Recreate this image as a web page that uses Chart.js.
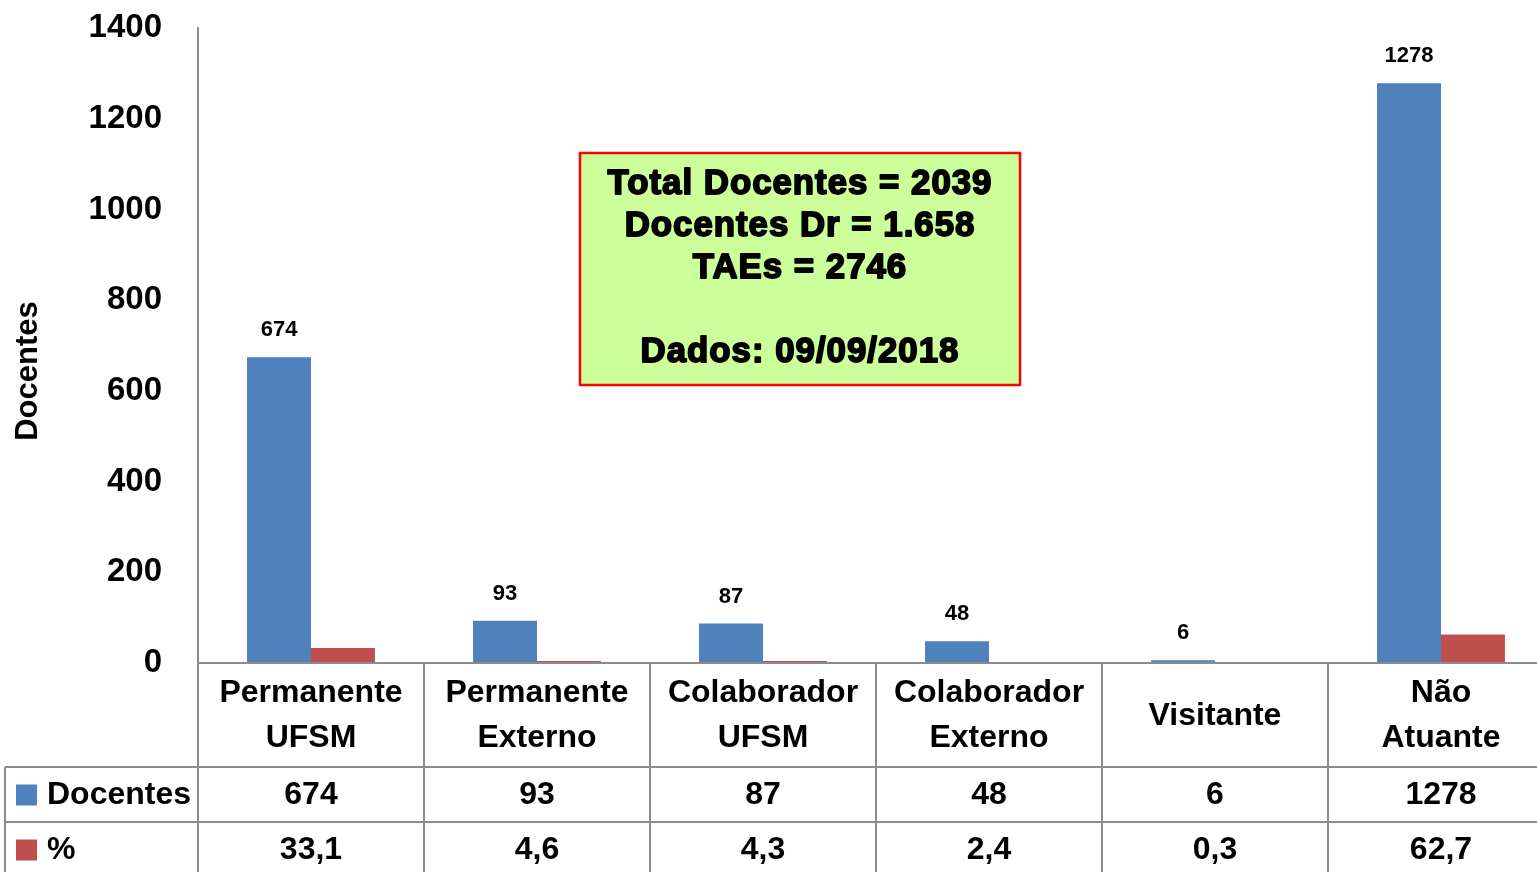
<!DOCTYPE html>
<html>
<head>
<meta charset="utf-8">
<script src="https://cdn.jsdelivr.net/npm/chart.js@4/dist/chart.umd.min.js"></script>
<style>
    html, body { margin: 0; padding: 0; background: #fff; width: 1537px; height: 872px; overflow: hidden; }
    #wrap { width: 1560px; height: 880px; position: relative; }
</style>
</head>
<body>
<div id="wrap"><canvas id="chart"></canvas></div>
<script>
// ── Data ─────────────────────────────────────────────────────
const categories = [
    ['Permanente', 'UFSM'],
    ['Permanente', 'Externo'],
    ['Colaborador', 'UFSM'],
    ['Colaborador', 'Externo'],
    ['Visitante'],
    ['Não', 'Atuante']
];
const docentes   = [674, 93, 87, 48, 6, 1278];
const percentual = [33.1, 4.6, 4.3, 2.4, 0.3, 62.7];
const seriesNames = ['Docentes', '%'];
const yTicks = [0, 200, 400, 600, 800, 1000, 1200, 1400];
const boxLines = ['Total Docentes = 2039', 'Docentes Dr = 1.658', 'TAEs = 2746', '', 'Dados: 09/09/2018'];

// ── Style ────────────────────────────────────────────────────
const BLUE  = '#4f81bd';
const RED   = '#c0504d';
const GRID  = '#8c8c8c';
const FONT  = '"Liberation Sans", Arial, sans-serif';

function fmtPct(v) { return v.toFixed(1).replace('.', ','); }

// ── Table + annotations plugin ───────────────────────────────
const tablePlugin = {
    id: 'tablePlugin',
    afterDraw(chart) {
        const ctx  = chart.ctx;
        const area = chart.chartArea;
        const xs   = chart.scales.x;
        const step = (area.right - area.left) / categories.length;
        const rowTop = [area.bottom, area.bottom + 104, area.bottom + 159, area.bottom + 214];

        ctx.save();

        // grid
        ctx.strokeStyle = GRID;
        ctx.lineWidth = 2;
        ctx.beginPath();
        ctx.moveTo(area.left, rowTop[0]); ctx.lineTo(chart.width, rowTop[0]);
        for (let r = 1; r < rowTop.length; r++) {
            ctx.moveTo(5, rowTop[r]); ctx.lineTo(chart.width, rowTop[r]);
        }
        for (let i = 0; i <= categories.length; i++) {
            const x = area.left + i * step;
            ctx.moveTo(x, rowTop[0]); ctx.lineTo(x, chart.height);
        }
        ctx.moveTo(5, rowTop[1]); ctx.lineTo(5, chart.height);
        ctx.stroke();

        // category labels
        ctx.fillStyle = '#000';
        ctx.textAlign = 'center';
        ctx.textBaseline = 'middle';
        ctx.font = 'bold 32px ' + FONT;
        const labelMid = (rowTop[0] + rowTop[1]) / 2;
        categories.forEach((lines, i) => {
            const x = xs.getPixelForValue(i);
            lines.forEach((t, k) => {
                const y = labelMid + 1 + (k - (lines.length - 1) / 2) * 45;
                ctx.fillText(t, x, y);
            });
        });

        // table values
        const rows = [docentes.map(String), percentual.map(fmtPct)];
        rows.forEach((vals, r) => {
            const y = (rowTop[r + 1] + rowTop[r + 2]) / 2 + 1;
            vals.forEach((v, i) => ctx.fillText(v, xs.getPixelForValue(i), y));
        });

        // legend keys
        ctx.textAlign = 'left';
        [BLUE, RED].forEach((c, r) => {
            const y = (rowTop[r + 1] + rowTop[r + 2]) / 2;
            ctx.fillStyle = c;
            ctx.fillRect(16, y - 10, 21, 21);
            ctx.fillStyle = '#000';
            ctx.fillText(seriesNames[r], 47, y + 1);
        });

        // data labels on blue bars
        ctx.textAlign = 'center';
        ctx.textBaseline = 'middle';
        ctx.font = 'bold 22px ' + FONT;
        chart.getDatasetMeta(0).data.forEach((bar, i) => {
            ctx.fillText(String(docentes[i]), bar.x, bar.y - 27);
        });

        // y axis title
        ctx.save();
        ctx.translate(28, 371);
        ctx.rotate(-Math.PI / 2);
        ctx.font = 'bold 31px ' + FONT;
        ctx.fillText('Docentes', 0, 0);
        ctx.restore();

        // info box
        const bx = 580, by = 153, bw = 440, bh = 232;
        ctx.fillStyle = '#ccff99';
        ctx.fillRect(bx, by, bw, bh);
        ctx.strokeStyle = '#ff0000';
        ctx.lineWidth = 2.5;
        ctx.strokeRect(bx, by, bw, bh);

        ctx.letterSpacing = '1px';
        ctx.font = 'bold 30px ' + FONT;
        const w = ctx.measureText(boxLines[0]).width;
        const size = 30 * 388 / w;
        ctx.font = 'bold ' + size.toFixed(1) + 'px ' + FONT;
        ctx.fillStyle = '#000';
        ctx.strokeStyle = '#000';
        ctx.lineWidth = 1.8;
        ctx.lineJoin = 'round';
        boxLines.forEach((t, k) => {
            if (!t) return;
            const y = 184 + k * 42.2;
            ctx.strokeText(t, bx + bw / 2, y);
            ctx.fillText(t, bx + bw / 2, y);
        });

        ctx.restore();
    }
};

// ── Chart ────────────────────────────────────────────────────
new Chart(document.getElementById('chart'), {
    type: 'bar',
    data: {
        labels: categories.map(c => c.join(' ')),
        datasets: [
            { label: seriesNames[0], data: docentes,   backgroundColor: BLUE, borderWidth: 0 },
            { label: seriesNames[1], data: percentual, backgroundColor: RED,  borderWidth: 0 }
        ]
    },
    options: {
        responsive: true,
        maintainAspectRatio: false,
        animation: false,
        datasets: { bar: { categoryPercentage: 0.566, barPercentage: 1.0 } },
        layout: { padding: { top: 28, right: 6, bottom: 217, left: 0 } },
        plugins: {
            legend: { display: false },
            tooltip: { enabled: false }
        },
        scales: {
            x: {
                ticks: { display: false },
                grid: { display: false, drawTicks: false },
                border: { display: false },
                afterFit(scale) { scale.height = 0; }
            },
            y: {
                min: yTicks[0],
                max: yTicks[yTicks.length - 1],
                afterBuildTicks(scale) { scale.ticks = yTicks.map(v => ({ value: v })); },
                ticks: {
                    color: '#000', padding: 36,
                    font: { family: FONT, size: 33, weight: 'bold' },
                    callback: v => String(v)
                },
                grid: { display: false, drawTicks: false },
                border: { display: true, color: GRID, width: 2 },
                afterFit(scale) {
                    scale.width = 198;
                    scale.paddingTop = 0;
                    scale.paddingBottom = 0;
                }
            }
        }
    },
    plugins: [tablePlugin]
});
</script>
</body>
</html>
